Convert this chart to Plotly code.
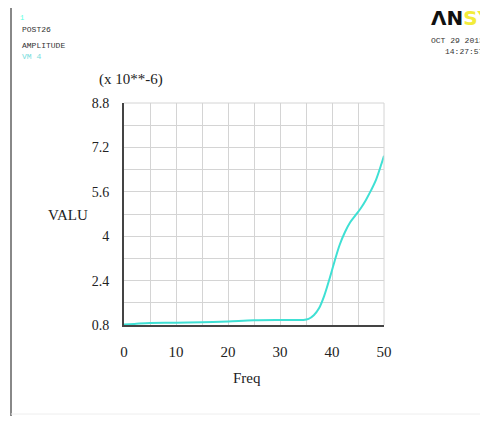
import plotly.graph_objects as go

freq = [0, 2, 5, 10, 15, 20, 25, 30, 33, 34.5, 35.5, 36.5, 37.5, 38.5, 39.5,
        40.5, 41.5, 42.5, 43.5, 44.5, 45.5, 46.5, 47.5, 48.5, 49.5, 50]
valu = [0.82, 0.84, 0.87, 0.88, 0.90, 0.93, 0.97, 0.98, 0.98, 0.98, 1.02, 1.15,
        1.40, 1.85, 2.45, 3.10, 3.70, 4.15, 4.50, 4.75, 5.00, 5.30, 5.65, 6.05,
        6.60, 6.90]
x_ticks = [0, 10, 20, 30, 40, 50]
y_ticks = [0.8, 2.4, 4, 5.6, 7.2, 8.8]
y_tick_text = ["0.8", "2.4", "4", "5.6", "7.2", "8.8"]

OFF = 8  # page body margin
W, H = 488 - OFF, 421 - OFF
L, R, T, B = 124, 384, 103, 325  # plot area in window pixels


def px(x):
    return (x - L) / (R - L)


def py(y):
    return (B - y) / (B - T)


serif = "Liberation Serif"
mono = "Liberation Mono"

fig = go.Figure()
fig.add_trace(go.Scatter(x=freq, y=valu, mode="lines",
                         line=dict(color="#3fe0d4", width=2, shape="spline"),
                         showlegend=False))

fig.update_layout(
    width=W, height=H,
    margin=dict(l=L - OFF, r=W - (R - OFF), t=T - OFF, b=H - (B - OFF), pad=0),
    paper_bgcolor="white", plot_bgcolor="white",
    font=dict(family=serif, size=14, color="#222"),
    xaxis=dict(range=[0, 50], tickvals=x_ticks, showgrid=True,
               gridcolor="#d4d4d4", gridwidth=1,
               minor=dict(dtick=5, tick0=0, showgrid=True, gridcolor="#d4d4d4"),
               showline=True, linecolor="#444", linewidth=2,
               zeroline=False, ticks="", ticklabelstandoff=12,
               tickfont=dict(family=serif, size=15, color="#222")),
    yaxis=dict(range=[0.8, 8.8], tickvals=y_ticks, ticktext=y_tick_text,
               showgrid=True, gridcolor="#d4d4d4", gridwidth=1,
               minor=dict(dtick=0.8, tick0=0.8, showgrid=True, gridcolor="#d4d4d4"),
               showline=True, linecolor="#444", linewidth=2,
               zeroline=False, ticks="", ticklabelstandoff=10,
               tickfont=dict(family=serif, size=14, color="#222")),
)

# outer frame lines (gray)
fig.add_shape(type="line", xref="paper", yref="paper",
              x0=px(11), x1=px(490), y0=py(5), y1=py(5),
              line=dict(color="#888", width=2))
fig.add_shape(type="line", xref="paper", yref="paper",
              x0=px(11), x1=px(11), y0=py(5), y1=py(416),
              line=dict(color="#888", width=2))
fig.add_shape(type="line", xref="paper", yref="paper",
              x0=px(11), x1=px(490), y0=py(414), y1=py(414),
              line=dict(color="#eee", width=1))
# grid boundary lines at top and right
fig.add_shape(type="line", xref="paper", yref="paper",
              x0=0, x1=1, y0=1, y1=1, line=dict(color="#d4d4d4", width=1))
fig.add_shape(type="line", xref="paper", yref="paper",
              x0=1, x1=1, y0=0, y1=1, line=dict(color="#d4d4d4", width=1))


def note(text, x, y, size, family=serif, color="#222", xanchor="center"):
    fig.add_annotation(text=text, xref="paper", yref="paper", x=px(x), y=py(y),
                       xanchor=xanchor, yanchor="middle", showarrow=False,
                       font=dict(family=family, size=size, color=color))


note("(x 10**-6)", 131, 80, 15)
note("VALU", 68, 215, 15)
note("Freq", 247, 378, 15)

note("1", 18, 18, 7, mono, "#5fd", "left")
note("POST26", 20, 29, 8, mono, "#333", "left")
note("AMPLITUDE", 20, 46, 8, mono, "#333", "left")
note("VM 4", 20, 57, 8, mono, "#7dd", "left")

note("OCT 29 2013", 486, 41, 8, mono, "#333", "right")
note("14:27:57", 486, 52, 8, mono, "#333", "right")
fig.add_annotation(text="<b>ΛN<span style='color:#f2ec3a'>SYS</span></b>",
                   xref="paper", yref="paper", x=px(429), y=py(18),
                   xanchor="left", yanchor="middle", showarrow=False,
                   font=dict(family="DejaVu Sans", size=20, color="#111"))

fig.write_html("out.html")
